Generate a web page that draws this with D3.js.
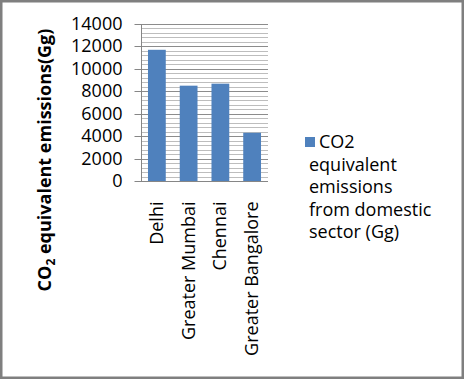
<!DOCTYPE html>
<html><head><meta charset="utf-8">
<script src="https://cdn.jsdelivr.net/npm/d3@7"></script>
<style>body{margin:0;background:#fff}svg{display:block}</style>
</head><body>
<script>
const categories = ["Delhi", "Greater Mumbai", "Chennai", "Greater Bangalore"];
const values = [11700, 8500, 8680, 4300];
const yTicks = [0, 2000, 4000, 6000, 8000, 10000, 12000, 14000];
const seriesName = ["CO2", "equivalent", "emissions", "from domestic", "sector (Gg)"];

(function () {
const W = 464, H = 379;
const font = "Open Sans, Lato, sans-serif";
const svg = d3.select("body").append("svg").attr("width", W).attr("height", H);
svg.append("rect").attr("x", 1).attr("y", 1).attr("width", W - 2).attr("height", H - 2)
  .attr("fill", "#fff").attr("stroke", "#7f7f7f").attr("stroke-width", 3);

const pLeft = 141, pRight = 268, pTop = 24, pBottom = 181;
const x = d3.scaleBand().domain(categories).range([pLeft, pRight]).paddingInner(0.44).paddingOuter(0.22);
const y = d3.scaleLinear().domain([0, 14000]).range([pBottom, pTop]);

const minor = d3.range(0, 14001, 400).filter(v => v % 2000 !== 0);
svg.append("g").selectAll("line").data(minor).join("line")
  .attr("x1", pLeft).attr("x2", pRight).attr("y1", d => Math.round(y(d)) + 0.5).attr("y2", d => Math.round(y(d)) + 0.5)
  .attr("stroke", "#bdbdbd").attr("stroke-width", 1);
svg.append("g").selectAll("line").data(yTicks.filter(v => v > 0)).join("line")
  .attr("x1", pLeft).attr("x2", pRight).attr("y1", d => Math.round(y(d)) + 0.5).attr("y2", d => Math.round(y(d)) + 0.5)
  .attr("stroke", "#8c8c8c").attr("stroke-width", 1);

svg.append("g").selectAll("rect").data(values).join("rect")
  .attr("x", (d, i) => x(categories[i])).attr("width", x.bandwidth())
  .attr("y", d => y(d)).attr("height", d => y(0) - y(d)).attr("fill", "#4f81bd");

const yAxis = d3.axisLeft(y).tickValues(yTicks).tickSize(7).tickPadding(12).tickFormat(d3.format("d"));
const gy = svg.append("g").attr("transform", `translate(${pLeft + 0.5},0.5)`).call(yAxis);
gy.select(".domain").attr("stroke", "#868686").attr("d", `M0,${Math.round(pTop)}V${Math.round(pBottom)}`);
gy.selectAll(".tick line").attr("stroke", "#868686");
gy.selectAll(".tick").attr("transform", d => `translate(0,${Math.round(y(d))})`);
gy.selectAll("text").attr("font-family", font).attr("font-size", 18).attr("fill", "#000");

const xAxis = d3.axisBottom(x).tickSize(0).tickPadding(0);
const gx = svg.append("g").attr("transform", `translate(0,${Math.round(pBottom) + 0.5})`).call(xAxis);
gx.select(".domain").attr("stroke", "#868686").attr("d", `M${pLeft},0H${pRight}`);
gx.selectAll("text").attr("font-family", font).attr("font-size", 18).attr("fill", "#000")
  .attr("text-anchor", "end").attr("dy", null).attr("y", 0)
  .attr("transform", "translate(6,20) rotate(-90)");

const title = svg.append("text").attr("transform", "translate(51,160) rotate(-90)")
  .attr("text-anchor", "middle").attr("font-family", font).attr("font-weight", "bold")
  .attr("font-size", 18).attr("fill", "#000");
title.append("tspan").text("CO");
title.append("tspan").attr("font-size", 12).attr("dy", 4).text("2");
title.append("tspan").attr("dy", -4).text(" equivalent emissions(Gg)");

const lg = svg.append("g");
lg.append("rect").attr("x", 305).attr("y", 137).attr("width", 10).attr("height", 10).attr("fill", "#4f81bd");
lg.selectAll("text").data(seriesName).join("text")
  .attr("x", (d, i) => i === 0 ? 319 : 309).attr("y", (d, i) => 148 + i * 22.5)
  .attr("font-family", font).attr("font-size", 18).attr("fill", "#000").text(d => d);
})();
</script>
</body></html>
